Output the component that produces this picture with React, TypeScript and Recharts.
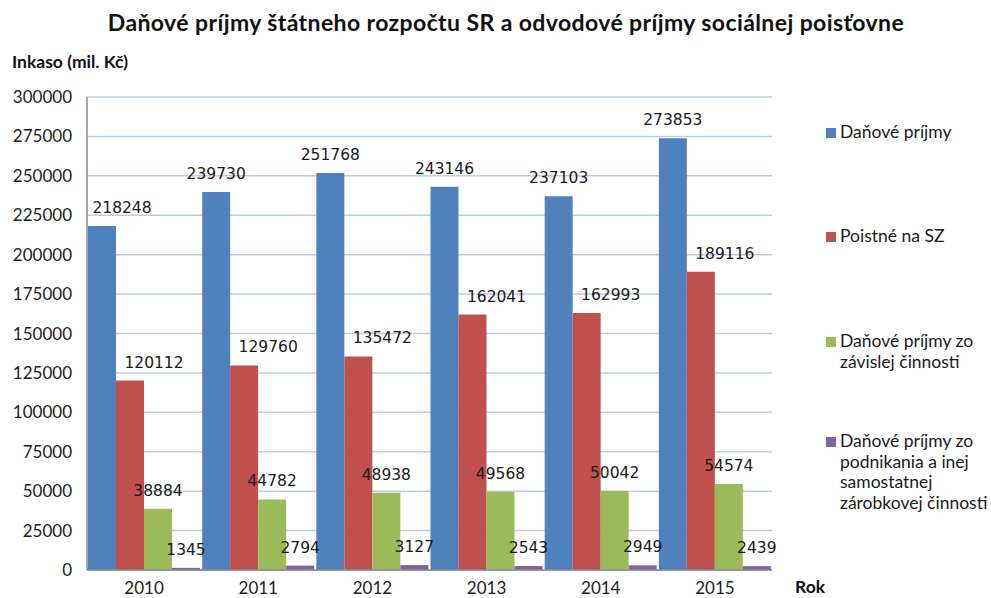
import React from 'react'
import { BarChart, Bar, XAxis, YAxis, CartesianGrid, LabelList } from 'recharts'

const years = ['2010', '2011', '2012', '2013', '2014', '2015']
const danovePrijmy = [218248, 239730, 251768, 243146, 237103, 273853]
const poistneSZ = [120112, 129760, 135472, 162041, 162993, 189116]
const zavislaCinnost = [38884, 44782, 48938, 49568, 50042, 54574]
const podnikanie = [1345, 2794, 3127, 2543, 2949, 2439]
const yTicks = [0, 25000, 50000, 75000, 100000, 125000, 150000, 175000, 200000, 225000, 250000, 275000, 300000]

const series = [
  { key: 'dane', name: 'Daňové príjmy', color: '#4f81bd', lines: ['Daňové príjmy'], dx: 0 },
  { key: 'poistne', name: 'Poistné na SZ', color: '#c0504d', lines: ['Poistné na SZ'], dx: 24 },
  {
    key: 'zavisla',
    name: 'Daňové príjmy zo závislej činnosti',
    color: '#9bbb59',
    lines: ['Daňové príjmy zo', 'závislej činnosti'],
    dx: 0,
  },
  {
    key: 'podnikanie',
    name: 'Daňové príjmy zo podnikania a inej samostatnej zárobkovej činnosti',
    color: '#8064a2',
    lines: ['Daňové príjmy zo', 'podnikania a inej', 'samostatnej', 'zárobkovej činnosti'],
    dx: 0,
  },
]

const data = years.map((year, i) => ({
  year,
  dane: danovePrijmy[i],
  poistne: poistneSZ[i],
  zavisla: zavislaCinnost[i],
  podnikanie: podnikanie[i],
}))

const CALIBRI = 'Lato, "Open Sans", sans-serif'
const LABEL_FONT = '"DejaVu Sans", Verdana, sans-serif'
const PLOT_LEFT = 87

// Excel nudges the first label right so it doesn't run over the axis
const makeLabel = (dx: number) => (props: any) => {
  const { x, y, width, value } = props
  const text = String(value)
  const half = text.length * 5
  let cx = x + width / 2 + dx
  if (cx - half < PLOT_LEFT + 5) cx = PLOT_LEFT + 5 + half
  return (
    <text x={cx} y={y - 13} textAnchor="middle" fontSize={15.5} fontFamily={LABEL_FONT} fill="#1a1a1a">
      {text}
    </text>
  )
}

const legendTops = [133, 237, 342, 442]

function SideLegend() {
  return (
    <div style={{ position: 'absolute', left: 822, top: 0, width: 170 }}>
      {series.map((s, i) => (
        <div key={s.key} style={{ position: 'absolute', left: 0, top: legendTops[i] - 11 }}>
          <div
            style={{
              position: 'absolute',
              left: 4,
              top: 6,
              width: 10,
              height: 10,
              background: s.color,
            }}
          />
          <div
            style={{
              marginLeft: 18,
              fontFamily: CALIBRI,
              fontSize: 17.5,
              lineHeight: '20.5px',
              color: '#1a1a1a',
              whiteSpace: 'nowrap',
            }}
          >
            {s.lines.map((l) => (
              <div key={l}>{l}</div>
            ))}
          </div>
        </div>
      ))}
    </div>
  )
}

export default function App() {
  return (
    <div style={{ position: 'absolute', left: 0, top: 0, width: 991, height: 598, background: '#fff' }}>
      <BarChart
        width={991}
        height={598}
        data={data}
        margin={{ top: 97, right: 219, left: 0, bottom: 0 }}
        barCategoryGap={1}
        barGap={0}
      >
        <CartesianGrid vertical={false} stroke="#b9cde5" strokeWidth={1.5} />
        <XAxis
          dataKey="year"
          height={28}
          tickLine={false}
          tickSize={0}
          tickMargin={12}
          axisLine={{ stroke: '#888', strokeWidth: 1.5 }}
          tick={{ fontFamily: CALIBRI, fontSize: 17, fill: '#222' }}
        />
        <YAxis
          width={87}
          domain={[0, 300000]}
          ticks={yTicks}
          interval={0}
          tickLine={false}
          tickSize={0}
          tickMargin={15}
          axisLine={{ stroke: '#888', strokeWidth: 1.5 }}
          tick={{ fontFamily: CALIBRI, fontSize: 17, fill: '#222' }}
        />
        {series.map((s) => (
          <Bar key={s.key} dataKey={s.key} name={s.name} fill={s.color} isAnimationActive={false}>
            <LabelList dataKey={s.key} content={makeLabel(s.dx)} />
          </Bar>
        ))}
      </BarChart>
      <div
        style={{
          position: 'absolute',
          left: 0,
          top: 8,
          width: 1012,
          textAlign: 'center',
          fontFamily: CALIBRI,
          fontWeight: 700,
          fontSize: 23,
          letterSpacing: 0.4,
          color: '#111',
        }}
      >
        Daňové príjmy štátneho rozpočtu SR a odvodové príjmy sociálnej poisťovne
      </div>
      <div
        style={{
          position: 'absolute',
          left: 12,
          top: 51,
          fontFamily: CALIBRI,
          fontWeight: 700,
          fontSize: 17.5,
          color: '#111',
        }}
      >
        Inkaso (mil. Kč)
      </div>
      <div
        style={{
          position: 'absolute',
          left: 795,
          top: 576,
          fontFamily: CALIBRI,
          fontWeight: 700,
          fontSize: 17.5,
          color: '#111',
        }}
      >
        Rok
      </div>
      <SideLegend />
    </div>
  )
}
